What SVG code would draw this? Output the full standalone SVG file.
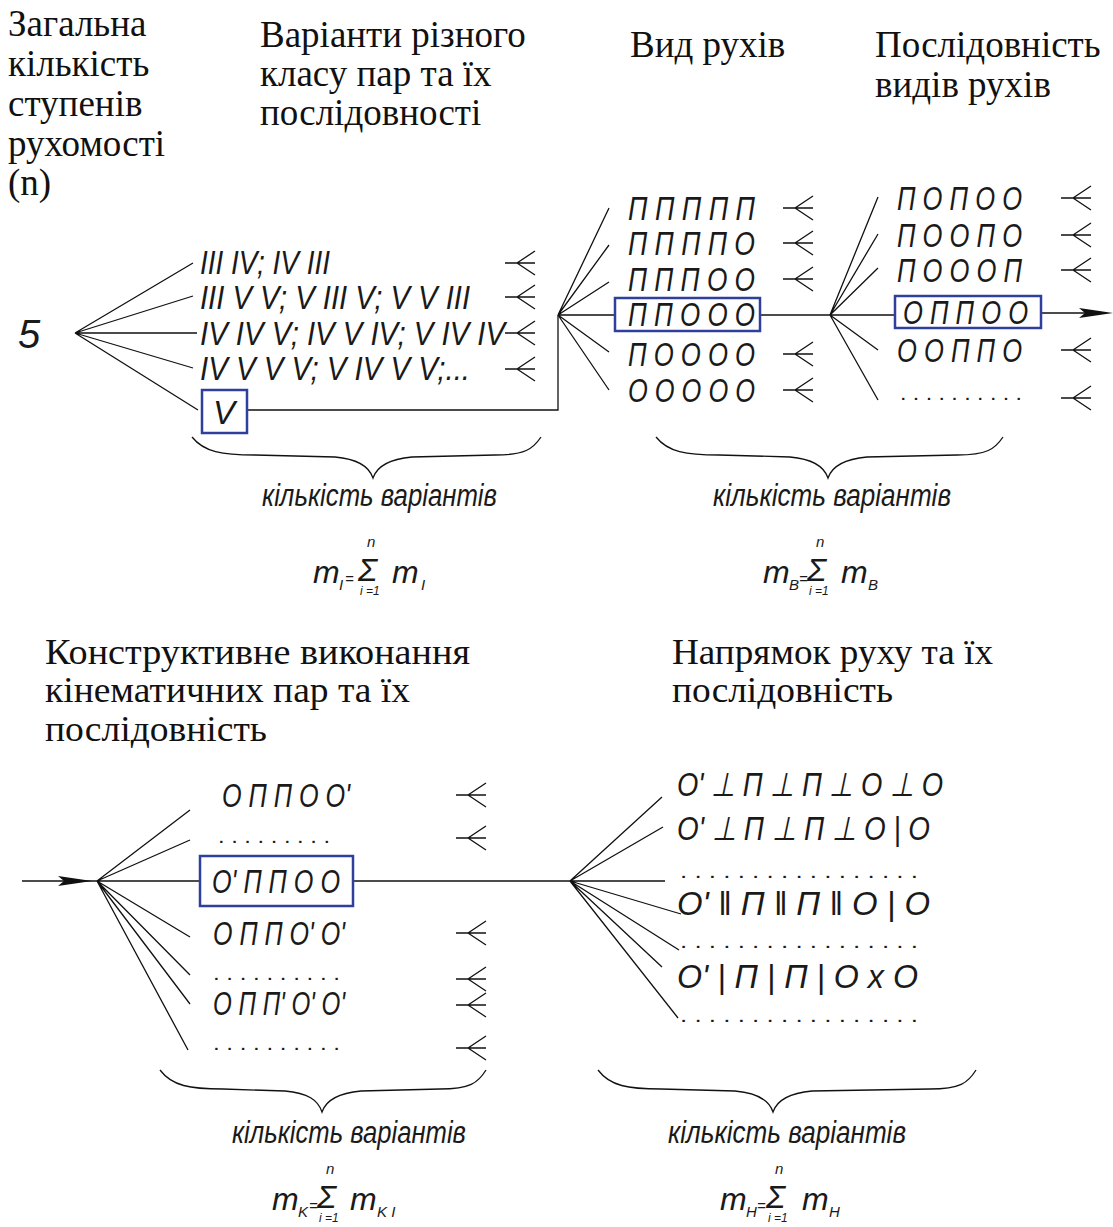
<svg xmlns="http://www.w3.org/2000/svg" xmlns:xlink="http://www.w3.org/1999/xlink" width="1113" height="1227" viewBox="0 0 1113 1227">
<style>
.h{font-family:"Liberation Serif",serif;font-size:37px;fill:#111}
.hc{font-family:"Liberation Serif",serif;font-size:35px;fill:#111}
.g{font-family:"Liberation Sans",sans-serif;font-style:italic;font-size:33px;fill:#1a1a1a}
.d{font-family:"Liberation Sans",sans-serif;font-size:20px;fill:#1a1a1a}
.k{font-family:"Liberation Sans",sans-serif;font-style:italic;font-size:31px;fill:#1a1a1a}
.f{font-family:"Liberation Sans",sans-serif;font-style:italic;font-size:32px;fill:#1a1a1a}
.sb{font-size:15px}
.sg{font-size:32px}
.lim{font-size:12px}
.ln{stroke:#111;stroke-width:1.3;fill:none}
.box{stroke:#2e3f9c;stroke-width:2.5;fill:none}
.fork{stroke:#111;stroke-width:1.3;fill:none}
</style>
<defs>
<path id="fork" class="fork" d="M0,0 H30 M12,0 L30,-12 M12,0 L30,12"/>
<path id="ah" d="M0,-5 L34,0 L0,5 L6,0 Z" fill="#111"/>
</defs>
<rect width="1113" height="1227" fill="#fff"/>

<g id="headings">
<text class="h" x="8" y="36">Загальна</text>
<text class="h" x="8" y="76">кількість</text>
<text class="h" x="8" y="116">ступенів</text>
<text class="h" x="8" y="156">рухомості</text>
<text class="h" x="8" y="195">(n)</text>
<text class="h" x="260" y="47">Варіанти різного</text>
<text class="h" x="260" y="86">класу пар та їх</text>
<text class="h" x="260" y="125">послідовності</text>
<text class="h" x="630" y="57">Вид рухів</text>
<text class="h" x="875" y="57">Послідовність</text>
<text class="h" x="875" y="97">видів рухів</text>
<text class="hc" x="45" y="664" textLength="425" lengthAdjust="spacingAndGlyphs">Конструктивне виконання</text>
<text class="hc" x="45" y="702" textLength="365" lengthAdjust="spacingAndGlyphs">кінематичних пар та їх</text>
<text class="hc" x="45" y="741" textLength="222" lengthAdjust="spacingAndGlyphs">послідовність</text>
<text class="hc" x="672" y="664" textLength="321" lengthAdjust="spacingAndGlyphs">Напрямок руху та їх</text>
<text class="hc" x="672" y="702" textLength="221" lengthAdjust="spacingAndGlyphs">послідовність</text>
</g>

<g id="connectors">
<path class="ln" d="M75,333 L193,263 M75,333 L193,296 M75,333 L197,333 M75,333 L193,368 M75,333 L198,410"/>
<path class="ln" d="M247,410 H558 V315"/>
<path class="ln" d="M558,315 L609,208 M558,315 L609,245 M558,315 L609,282 M558,315 L615,315 M558,315 L609,352 M558,315 L609,390"/>
<path class="ln" d="M760,315 H830"/>
<path class="ln" d="M830,315 L878,197 M830,315 L878,234 M830,315 L878,268 M830,315 L895,315 M830,315 L878,350 M830,315 L878,400"/>
<path class="ln" d="M1041,313 H1085"/>
<use href="#ah" x="1079" y="313"/>
<path class="ln" d="M22,881 H97"/>
<use href="#ah" x="58" y="881"/>
<path class="ln" d="M97,881 L190,810 M97,881 L190,840 M97,881 L200,881 M97,881 L190,937 M97,881 L190,975 M97,881 L190,1004 M97,881 L188,1050"/>
<path class="ln" d="M353,881 H570"/>
<path class="ln" d="M570,881 L662,797 M570,881 L663,827 M570,881 L665,881 M570,881 L681,914 M570,881 L679,950 M570,881 L662,967 M570,881 L678,1018"/>
</g>

<g id="n-total">
<text x="18" y="348" style="font-family:'Liberation Sans',sans-serif;font-style:italic;font-size:40px;fill:#1a1a1a">5</text>
</g>

<g id="classes">
<text class="g" x="200" y="274" textLength="130" lengthAdjust="spacingAndGlyphs">III IV; IV III</text>
<text class="g" x="200" y="309" textLength="270" lengthAdjust="spacingAndGlyphs">III V V; V III V; V V III</text>
<text class="g" x="200" y="345" textLength="305" lengthAdjust="spacingAndGlyphs">IV IV V; IV V IV; V IV IV</text>
<text class="g" x="200" y="380" textLength="270" lengthAdjust="spacingAndGlyphs">IV V V V; V IV V V;...</text>
<rect class="box" x="202" y="390" width="45" height="43"/>
<text class="g" x="213" y="424">V</text>
<use href="#fork" x="505" y="263"/>
<use href="#fork" x="505" y="297"/>
<use href="#fork" x="505" y="333"/>
<use href="#fork" x="505" y="369"/>
</g>

<g id="motion-kinds">
<text class="g" x="628" y="220" textLength="127" lengthAdjust="spacingAndGlyphs">П П П П П</text>
<text class="g" x="628" y="255" textLength="127" lengthAdjust="spacingAndGlyphs">П П П П О</text>
<text class="g" x="628" y="291" textLength="127" lengthAdjust="spacingAndGlyphs">П П П О О</text>
<rect class="box" x="615" y="298" width="145" height="33"/>
<text class="g" x="628" y="326" textLength="127" lengthAdjust="spacingAndGlyphs">П П О О О</text>
<text class="g" x="628" y="366" textLength="127" lengthAdjust="spacingAndGlyphs">П О О О О</text>
<text class="g" x="628" y="402" textLength="127" lengthAdjust="spacingAndGlyphs">О О О О О</text>
<use href="#fork" x="783" y="208"/>
<use href="#fork" x="783" y="243"/>
<use href="#fork" x="783" y="279"/>
<use href="#fork" x="783" y="354"/>
<use href="#fork" x="783" y="390"/>
</g>

<g id="motion-sequences">
<text class="g" x="897" y="210" textLength="125" lengthAdjust="spacingAndGlyphs">П О П О О</text>
<text class="g" x="897" y="247" textLength="125" lengthAdjust="spacingAndGlyphs">П О О П О</text>
<text class="g" x="897" y="282" textLength="125" lengthAdjust="spacingAndGlyphs">П О О О П</text>
<rect class="box" x="895" y="296" width="146" height="32"/>
<text class="g" x="903" y="324" textLength="125" lengthAdjust="spacingAndGlyphs">О П П О О</text>
<text class="g" x="897" y="362" textLength="125" lengthAdjust="spacingAndGlyphs">О О П П О</text>
<text class="d" x="900" y="400" textLength="122" lengthAdjust="spacingAndGlyphs">. . . . . . . . . .</text>
<use href="#fork" x="1061" y="198"/>
<use href="#fork" x="1061" y="235"/>
<use href="#fork" x="1061" y="270"/>
<use href="#fork" x="1061" y="350"/>
<use href="#fork" x="1061" y="398"/>
</g>

<g id="construction">
<text class="g" x="222" y="807" textLength="128" lengthAdjust="spacingAndGlyphs">О П П О О'</text>
<text class="d" x="218" y="843" textLength="112" lengthAdjust="spacingAndGlyphs">. . . . . . . . .</text>
<rect class="box" x="200" y="856" width="153" height="50"/>
<text class="g" x="212" y="893" textLength="128" lengthAdjust="spacingAndGlyphs">О' П П О О</text>
<text class="g" x="213" y="945" textLength="132" lengthAdjust="spacingAndGlyphs">О П П О' О'</text>
<text class="d" x="213" y="980" textLength="127" lengthAdjust="spacingAndGlyphs">. . . . . . . . . .</text>
<text class="g" x="213" y="1015" textLength="132" lengthAdjust="spacingAndGlyphs">О П П' О' О'</text>
<text class="d" x="213" y="1050" textLength="127" lengthAdjust="spacingAndGlyphs">. . . . . . . . . .</text>
<use href="#fork" x="456" y="795"/>
<use href="#fork" x="456" y="838"/>
<use href="#fork" x="456" y="933"/>
<use href="#fork" x="456" y="979"/>
<use href="#fork" x="456" y="1005"/>
<use href="#fork" x="456" y="1048"/>
</g>

<g id="directions">
<text class="g" x="677" y="796" font-size="30" textLength="266" lengthAdjust="spacingAndGlyphs">О' ⊥ П ⊥ П ⊥ О ⊥ О</text>
<text class="g" x="677" y="840" font-size="30" textLength="253" lengthAdjust="spacingAndGlyphs">О' ⊥ П ⊥ П ⊥ О | О</text>
<text class="d" x="680" y="878" textLength="238" lengthAdjust="spacingAndGlyphs">. . . . . . . . . . . . . . . . .</text>
<text class="g" x="677" y="915" font-size="30" textLength="253" lengthAdjust="spacingAndGlyphs">О' ‖ П ‖ П ‖ О | О</text>
<text class="d" x="680" y="948" textLength="238" lengthAdjust="spacingAndGlyphs">. . . . . . . . . . . . . . . . .</text>
<text class="g" x="677" y="988" font-size="30" textLength="241" lengthAdjust="spacingAndGlyphs">О' | П | П | О х О</text>
<text class="d" x="680" y="1022" textLength="238" lengthAdjust="spacingAndGlyphs">. . . . . . . . . . . . . . . . .</text>
</g>

<g id="count-1">
<path class="ln" d="M192,437 C204,452 222,455 255,455 L335,457 C358,459 369,466 373,478 C377,466 390,459 412,457 L495,455 C525,455 533,449 541,437"/>
<text class="k" x="262" y="506" textLength="235" lengthAdjust="spacingAndGlyphs">кількість варіантів</text>
<text class="f"><tspan x="313" y="583">m</tspan><tspan class="sb" x="339" y="590">I</tspan><tspan class="sb" x="345" y="584">=</tspan><tspan class="sg" x="358" y="581">Σ</tspan><tspan class="sb" x="367" y="547">n</tspan><tspan class="lim" x="360" y="595">i =1</tspan><tspan x="392" y="583">m</tspan><tspan class="sb" x="421" y="590">I</tspan></text>
</g>

<g id="count-2">
<path class="ln" d="M656,437 C668,452 686,455 719,455 L790,457 C813,459 824,466 828,478 C832,466 845,459 867,457 L957,455 C987,455 995,449 1003,437"/>
<text class="k" x="713" y="506" textLength="238" lengthAdjust="spacingAndGlyphs">кількість варіантів</text>
<text class="f"><tspan x="763" y="583">m</tspan><tspan class="sb" x="789" y="590">B</tspan><tspan class="sb" x="799" y="584">=</tspan><tspan class="sg" x="807" y="581">Σ</tspan><tspan class="sb" x="816" y="547">n</tspan><tspan class="lim" x="809" y="595">i =1</tspan><tspan x="841" y="583">m</tspan><tspan class="sb" x="868" y="590">B</tspan></text>
</g>

<g id="count-3">
<path class="ln" d="M160,1070 C172,1086 190,1089 223,1089 L285,1091 C308,1093 318,1100 322,1112 C326,1100 339,1093 361,1091 L440,1089 C470,1089 478,1083 486,1070"/>
<text class="k" x="232" y="1143" textLength="234" lengthAdjust="spacingAndGlyphs">кількість варіантів</text>
<text class="f"><tspan x="272" y="1210">m</tspan><tspan class="sb" x="298" y="1217">K</tspan><tspan class="sb" x="309" y="1211">=</tspan><tspan class="sg" x="317" y="1208">Σ</tspan><tspan class="sb" x="326" y="1174">n</tspan><tspan class="lim" x="319" y="1222">i =1</tspan><tspan x="350" y="1210">m</tspan><tspan class="sb" x="377" y="1217">K I</tspan></text>
</g>

<g id="count-4">
<path class="ln" d="M598,1070 C610,1086 628,1089 661,1089 L735,1091 C758,1093 769,1100 773,1112 C777,1100 790,1093 812,1091 L930,1089 C960,1089 968,1083 976,1070"/>
<text class="k" x="668" y="1143" textLength="238" lengthAdjust="spacingAndGlyphs">кількість варіантів</text>
<text class="f"><tspan x="720" y="1210">m</tspan><tspan class="sb" x="746" y="1217">H</tspan><tspan class="sb" x="757" y="1211">=</tspan><tspan class="sg" x="766" y="1208">Σ</tspan><tspan class="sb" x="775" y="1174">n</tspan><tspan class="lim" x="768" y="1222">i =1</tspan><tspan x="802" y="1210">m</tspan><tspan class="sb" x="829" y="1217">H</tspan></text>
</g>
</svg>
